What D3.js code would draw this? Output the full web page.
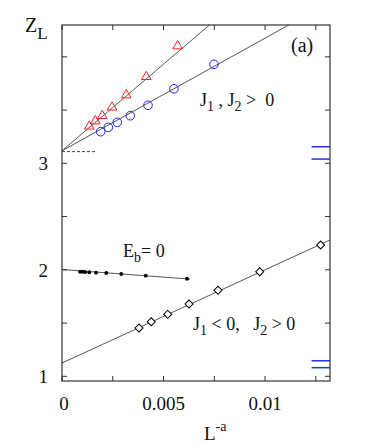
<!DOCTYPE html>
<html lang="en">
<head>
    <meta charset="UTF-8">
    <title>Z_L vs L^-a</title>
    <script src="https://d3js.org/d3.v7.min.js"></script>
    <style>
        body { margin: 0; background: #fff; }
        svg { display: block; }
        text { font-family: "Liberation Serif", "DejaVu Serif", serif; }
        .tick-label { font-size: 19px; fill: #111; }
        .note { font-size: 18px; fill: #111; }
    </style>
</head>
<body>
<div id="chart"></div>
<script>
    // values
    const triangles = [
        [0.001345, 3.347], [0.00164, 3.397], [0.001985, 3.447], [0.002463, 3.526],
        [0.003167, 3.641], [0.004152, 3.813], [0.005699, 4.101]
    ];
    const circles = [
        [0.001906, 3.297], [0.00228, 3.338], [0.002724, 3.385], [0.003364, 3.447],
        [0.004236, 3.545], [0.005516, 3.700], [0.007487, 3.930]
    ];
    const dots = [
        [0.000887, 1.982], [0.00102, 1.982], [0.001148, 1.979], [0.001345, 1.977],
        [0.001675, 1.973], [0.002182, 1.970], [0.002921, 1.961], [0.004123, 1.945],
        [0.006157, 1.916]
    ];
    const diamonds = [
        [0.003793, 1.453], [0.004398, 1.513], [0.005206, 1.582], [0.006255, 1.679],
        [0.007684, 1.808], [0.009737, 1.982], [0.012742, 2.233]
    ];
    // fitted lines (end points)
    const triFit = [[0, 3.118], [0.00726, 4.299]];
    const circFit = [[0, 3.118], [0.01117, 4.299]];
    const dotFit = [[0, 2.003], [0.0063, 1.913]];
    const diaFit = [[0, 1.125], [0.0132, 2.28]];
    const dashed = [[0, 3.11], [0.0017, 3.11]];
    // blue reference marks on the right edge
    const blueMarks = [3.156, 3.040, 1.146, 1.081];
    const blueStart = 0.01229;

    const xTicks = [0, 0.0025, 0.005, 0.0075, 0.01, 0.0125];
    const xLabels = [0, 0.005, 0.01];
    const yTicks = [1, 1.5, 2, 2.5, 3, 3.5, 4];
    const yLabels = [1, 2, 3];

    const W = 366, H = 446;
    const pLeft = 62, pRight = 330, pTop = 25, pBottom = 381;

    const svg = d3.select("#chart").append("svg")
        .attr("width", W).attr("height", H);

    const x = d3.scaleLinear().domain([0, 0.0132]).range([pLeft, pRight]);
    const y = d3.scaleLinear().domain([0.956, 4.299]).range([pBottom, pTop]);

    const line = d3.line().x(d => x(d[0])).y(d => y(d[1]));

    // fit lines
    [triFit, circFit, dotFit, diaFit].forEach(f => {
        svg.append("path").attr("d", line(f))
            .attr("fill", "none").attr("stroke", "#555").attr("stroke-width", 1);
    });
    svg.append("path").attr("d", line(dashed))
        .attr("fill", "none").attr("stroke", "#444").attr("stroke-width", 1)
        .attr("stroke-dasharray", "3,2");

    // blue marks
    svg.selectAll(".blue").data(blueMarks).join("line")
        .attr("x1", x(blueStart)).attr("x2", pRight)
        .attr("y1", d => y(d)).attr("y2", d => y(d))
        .attr("stroke", "#2233ee").attr("stroke-width", 1.5);

    // markers
    const tri = d3.symbol().type(d3.symbolTriangle).size(40);
    svg.selectAll(".tri").data(triangles).join("path")
        .attr("d", tri)
        .attr("transform", d => `translate(${x(d[0])},${y(d[1])})`)
        .attr("fill", "none").attr("stroke", "#ee2222").attr("stroke-width", 1);

    svg.selectAll(".circ").data(circles).join("circle")
        .attr("cx", d => x(d[0])).attr("cy", d => y(d[1])).attr("r", 4.3)
        .attr("fill", "none").attr("stroke", "#2222ee").attr("stroke-width", 1);

    svg.selectAll(".dot").data(dots).join("circle")
        .attr("cx", d => x(d[0])).attr("cy", d => y(d[1])).attr("r", 1.9)
        .attr("fill", "#000");

    const dia = d3.symbol().type(d3.symbolSquare).size(32);
    svg.selectAll(".dia").data(diamonds).join("path")
        .attr("d", dia)
        .attr("transform", d => `translate(${x(d[0])},${y(d[1])}) rotate(45)`)
        .attr("fill", "#fff").attr("stroke", "#000").attr("stroke-width", 1);

    // frame and inward ticks
    const frame = "#333";
    svg.append("rect").attr("x", pLeft).attr("y", pTop)
        .attr("width", pRight - pLeft).attr("height", pBottom - pTop)
        .attr("fill", "none").attr("stroke", frame).attr("stroke-width", 1.2);

    xTicks.forEach(t => {
        svg.append("line").attr("x1", x(t)).attr("x2", x(t))
            .attr("y1", pBottom).attr("y2", pBottom - 5).attr("stroke", frame);
        svg.append("line").attr("x1", x(t)).attr("x2", x(t))
            .attr("y1", pTop).attr("y2", pTop + 5).attr("stroke", frame);
    });
    yTicks.forEach(t => {
        svg.append("line").attr("x1", pLeft).attr("x2", pLeft + 5)
            .attr("y1", y(t)).attr("y2", y(t)).attr("stroke", frame);
        svg.append("line").attr("x1", pRight).attr("x2", pRight - 5)
            .attr("y1", y(t)).attr("y2", y(t)).attr("stroke", frame);
    });

    svg.selectAll(".xl").data(xLabels).join("text")
        .attr("class", "tick-label")
        .attr("x", d => x(d) + (d === 0 ? 2 : 0)).attr("y", 410)
        .attr("text-anchor", "middle")
        .text(d => d === 0 ? "0" : String(d));

    svg.selectAll(".yl").data(yLabels).join("text")
        .attr("class", "tick-label")
        .attr("x", 48).attr("y", d => y(d) + 7)
        .attr("text-anchor", "end")
        .text(d => d);

    // axis titles
    const zl = svg.append("text").attr("x", 25).attr("y", 32).attr("font-size", 20).attr("fill", "#111");
    zl.append("tspan").text("Z");
    zl.append("tspan").attr("dy", 7).attr("font-size", 17).text("L");

    const la = svg.append("text").attr("x", 204).attr("y", 440).attr("font-size", 19).attr("fill", "#111");
    la.append("tspan").text("L");
    la.append("tspan").attr("dy", -9).attr("font-size", 14).text("-a");

    svg.append("text").attr("class", "note").attr("x", 291).attr("y", 52)
        .style("font-size", "20px").text("(a)");

    // annotations
    function note(xp, yp, parts) {
        const t = svg.append("text").attr("class", "note").attr("x", xp).attr("y", yp)
            .attr("xml:space", "preserve");
        parts.forEach(p => {
            const s = t.append("tspan").text(p[0]);
            if (p[1]) s.attr("font-size", 14).attr("dy", 5);
            if (p[2]) s.attr("dy", -5);
        });
    }
    note(200, 106, [["J"], ["1", true], [" , J", false, true], ["2", true], [" >  0", false, true]]);
    note(123, 257, [["E"], ["b", true], ["= 0", false, true]]);
    note(193, 330, [["J"], ["1", true], [" < 0,   J", false, true], ["2", true], [" > 0", false, true]]);
</script>
</body>
</html>
